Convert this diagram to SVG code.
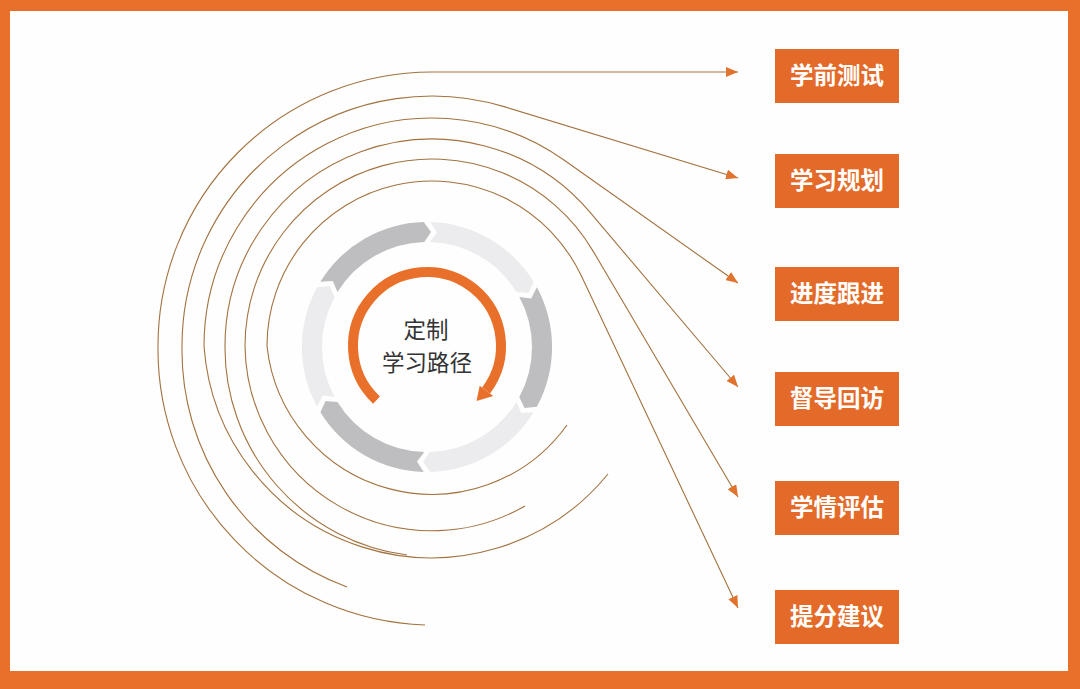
<svg xmlns="http://www.w3.org/2000/svg" width="1080" height="689" viewBox="0 0 1080 689">
<style>
.curve{fill:none;stroke:#A3723F;stroke-width:1.1}
.box{fill:#E36A28}
.lbl{font-family:"Noto Sans CJK SC","Noto Sans",sans-serif;font-size:23.5px;font-weight:bold;fill:#FFFFFF;text-anchor:middle}
.ctr{font-family:"Noto Sans CJK SC","Noto Sans",sans-serif;font-size:22.5px;fill:#333333;text-anchor:middle}
.dk{fill:#BEBEC0}
.lt{fill:#ECECEE}
</style>
<defs>
<marker id="ah" markerUnits="userSpaceOnUse" viewBox="0 0 12 10" markerWidth="12" markerHeight="10" refX="12" refY="5" orient="auto">
<path d="M0,0 L12,5 L0,10 Z" fill="#E0742F"/>
</marker>
</defs>
<rect x="0" y="0" width="1080" height="689" fill="#E8702A"/>
<rect x="10" y="11" width="1058" height="660" fill="#FEFEFE"/>

<g id="ring">
<path class="dk" d="M320.4,281.7 A125,125 0 0 1 423.7,222.0 L431.0,232.1 L424.3,242.0 A105,105 0 0 0 337.5,292.1 L332.8,281.0 Z"/>
<path class="lt" d="M430.3,222.0 A125,125 0 0 1 533.6,281.7 L528.5,293.0 L516.5,292.1 A105,105 0 0 0 429.7,242.0 L437.0,232.4 Z"/>
<path class="dk" d="M536.9,287.3 A125,125 0 0 1 536.9,406.7 L524.5,407.9 L519.3,397.1 A105,105 0 0 0 519.3,296.9 L531.2,298.4 Z"/>
<path class="lt" d="M533.6,412.3 A125,125 0 0 1 430.3,472.0 L423.0,461.9 L429.7,452.0 A105,105 0 0 0 516.5,401.9 L521.2,413.0 Z"/>
<path class="dk" d="M423.7,472.0 A125,125 0 0 1 320.4,412.3 L325.5,401.0 L337.5,401.9 A105,105 0 0 0 424.3,452.0 L417.0,461.6 Z"/>
<path class="lt" d="M317.1,406.7 A125,125 0 0 1 317.1,287.3 L329.5,286.1 L334.7,296.9 A105,105 0 0 0 334.7,397.1 L322.8,395.6 Z"/>
</g>

<g id="center">
<path d="M376.5,400.1 A74,74 0 1 1 486.1,390.5" fill="none" stroke="#E8702A" stroke-width="10"/>
<path d="M479.7,385.7 L493.3,395.9 L476.5,401.0 Z" fill="#E8702A"/>
<text class="ctr" x="426" y="338">定制</text>
<text class="ctr" x="427" y="371">学习路径</text>
</g>

<g id="connectors">
<path class="curve" marker-end="url(#ah)" d="M425,625 A276,276 0 0 1 158,346 A274,274 0 0 1 432,72 L738,72"/>
<path class="curve" marker-end="url(#ah)" d="M347,587 A252,252 0 0 1 182,346 A250,250 0 0 1 504.9,106.9 L738,178"/>
<path class="curve" marker-end="url(#ah)" d="M608,474 A228,228 0 0 1 204,346 A228,228 0 0 1 563.6,159.8 L738,283"/>
<path class="curve" marker-end="url(#ah)" d="M407,555 A209,209 0 0 1 225,346 A207,207 0 0 1 589.9,212.2 L738,387"/>
<path class="curve" marker-end="url(#ah)" d="M525,506 A187,187 0 0 1 245,346 A187,187 0 0 1 593.1,251.1 L738,497"/>
<path class="curve" marker-end="url(#ah)" d="M567,425 A166,166 0 0 1 267,346 A165,165 0 0 1 581.2,275.6 L738,608"/>
</g>

<g id="n1"><rect class="box" x="775" y="49" width="124" height="54"/><text class="lbl" x="837" y="84">学前测试</text></g>
<g id="n2"><rect class="box" x="775" y="154" width="124" height="54"/><text class="lbl" x="837" y="189">学习规划</text></g>
<g id="n3"><rect class="box" x="775" y="267" width="124" height="54"/><text class="lbl" x="837" y="302">进度跟进</text></g>
<g id="n4"><rect class="box" x="775" y="372" width="124" height="54"/><text class="lbl" x="837" y="407">督导回访</text></g>
<g id="n5"><rect class="box" x="775" y="481" width="124" height="54"/><text class="lbl" x="837" y="516">学情评估</text></g>
<g id="n6"><rect class="box" x="775" y="590" width="124" height="54"/><text class="lbl" x="837" y="625">提分建议</text></g>
</svg>
